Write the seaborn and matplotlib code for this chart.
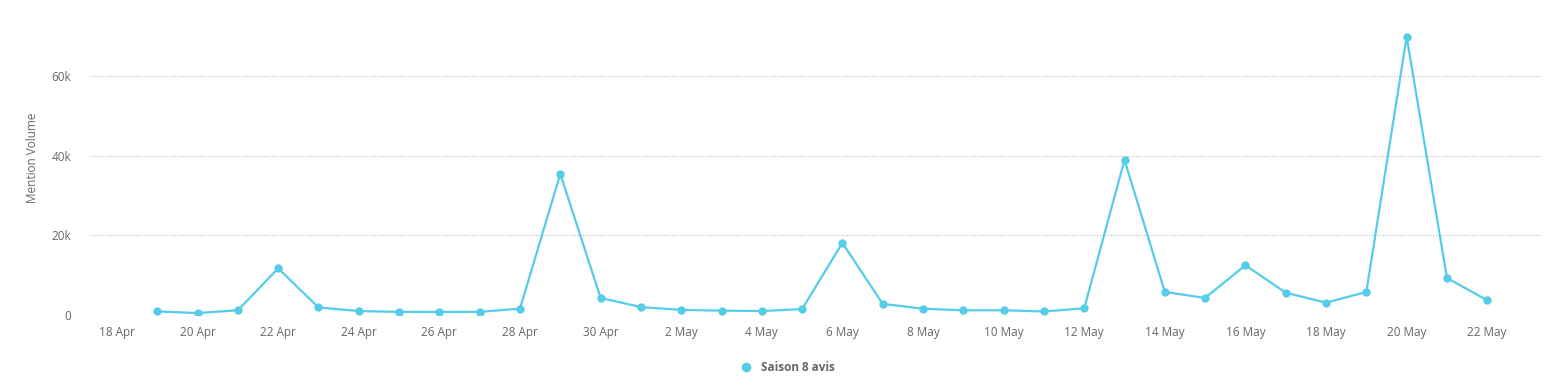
import pandas as pd
import matplotlib
matplotlib.use("Agg")
import matplotlib.pyplot as plt
import matplotlib.dates as mdates
from matplotlib.lines import Line2D
import seaborn as sns

# daily mention volume, 19 Apr - 22 May
dates = pd.date_range("2019-04-19", "2019-05-22", freq="D")
volume = [900, 500, 1200, 11700, 1900, 1000, 800, 800, 800, 1600,
          35400, 4300, 2000, 1300, 1100, 1000, 1500, 18100, 2800, 1600,
          1200, 1200, 900, 1700, 38900, 5800, 4300, 12500, 5600, 3100,
          5800, 69800, 9300, 3700]
series_name = "Saison 8 avis"
x_ticks = pd.date_range("2019-04-18", "2019-05-22", freq="2D")
y_ticks = [0, 20000, 40000, 60000]
y_tick_labels = ["0", "20k", "40k", "60k"]

df = pd.DataFrame({"date": dates, "volume": volume, "series": series_name})

color = "#55cde8"
grey = "#666666"

sns.set_style("white")
plt.rcParams["font.family"] = ["Open Sans", "DejaVu Sans"]

fig = plt.figure(figsize=(15.44, 3.88), dpi=100)
ax = fig.add_axes([0.0589, 0.188, 0.9398, 0.812])

sns.lineplot(data=df, x="date", y="volume", ax=ax, color=color, linewidth=1.6,
             marker="o", markersize=6, markeredgewidth=0, legend=False)

ax.set_ylim(0, 79000)
ax.set_xlim(pd.Timestamp("2019-04-18") - pd.Timedelta(hours=15.5),
            pd.Timestamp("2019-05-23") + pd.Timedelta(hours=8.6))
ax.set_yticks(y_ticks)
ax.set_yticklabels(y_tick_labels)
ax.set_xticks(x_ticks)
ax.xaxis.set_major_formatter(mdates.DateFormatter("%-d %b"))

ax.grid(axis="y", linestyle=(0, (1, 1.5)), color="#bbbbbb", linewidth=0.8)
ax.grid(axis="x", visible=False)
for s in ax.spines.values():
    s.set_visible(False)
ax.tick_params(axis="both", length=0, colors=grey, labelsize=8.5)
ax.tick_params(axis="x", pad=8)
ax.tick_params(axis="y", pad=14)
ax.set_xlabel("")
ax.set_ylabel("Mention Volume", color=grey, fontsize=8.5, labelpad=9)

handle = Line2D([], [], linestyle="none", marker="o", markersize=7,
                markerfacecolor=color, markeredgewidth=0)
leg = fig.legend([handle], [series_name], loc="center", bbox_to_anchor=(0.508, 0.052),
                 frameon=False, handletextpad=0.3, fontsize=8.5)
for t in leg.get_texts():
    t.set_color(grey)
    t.set_fontweight("bold")

fig.savefig("out.png", dpi=100)
